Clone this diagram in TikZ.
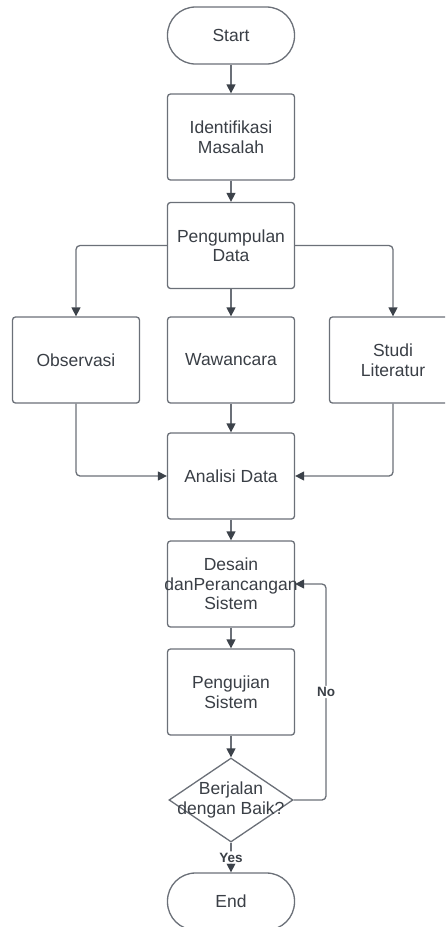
\documentclass[tikz,border=0pt]{standalone}
\usepackage{fontspec}
\setmainfont{Liberation Sans}
\usetikzlibrary{arrows.meta,shapes.geometric}
\definecolor{linec}{HTML}{6B7078}
\definecolor{tipc}{HTML}{3C424A}
\definecolor{txtc}{HTML}{3A3F46}

\begin{document}
\begin{tikzpicture}[x=1pt,y=-1pt,
  base/.style={draw=linec, line width=1.3pt, fill=white, text=txtc,
    font=\fontsize{17.5}{19.5}\selectfont, align=center, inner sep=0pt},
  procbox/.style={base, rectangle, rounded corners=3pt,
    minimum width=127pt, minimum height=86pt},
  termbox/.style={base, rectangle, rounded corners=28pt,
    minimum width=127pt, minimum height=57pt},
  decbox/.style={base, diamond, minimum width=124pt, minimum height=84pt},
  flow/.style={draw=linec, line width=1.3pt, rounded corners=4pt,
    -{Triangle[length=9pt,width=9pt,color=tipc]}},
  tag/.style={fill=white, text=txtc,
    font=\bfseries\fontsize{13.5}{15}\selectfont, inner sep=1.5pt}
]
\useasboundingbox (0,0) rectangle (445,927);
\clip (0,0) rectangle (445,927);

% nodes of the flow
\node[termbox] (start) at (231,35.5) {Start};
\node[procbox] (ident) at (231,137) {Identifikasi\\Masalah};
\node[procbox] (kumpul) at (231,245.5) {Pengumpulan\\Data};
\node[procbox] (obs) at (76,360) {Observasi};
\node[procbox] (waw) at (231,360) {Wawancara};
\node[procbox] (studi) at (393,360) {Studi\\Literatur};
\node[procbox] (analisi) at (231,476) {Analisi Data};
\node[procbox] (desain) at (231,584) {Desain\\\makebox[0pt]{danPerancangan}\\Sistem};
\node[procbox] (uji) at (231,692) {Pengujian\\Sistem};
\node[decbox, label={[text=txtc, align=center, inner sep=0pt,
    font=\fontsize{17.5}{19.5}\selectfont]center:{Berjalan\\dengan Baik?}}]
  (cek) at (231,800) {};
\node[termbox] (end) at (231,901.5) {End};

% connectors
\draw[flow] (start) -- (ident);
\draw[flow] (ident) -- (kumpul);
\draw[flow] (kumpul) -- (waw);
\draw[flow] (kumpul.west) -| (obs.north);
\draw[flow] (kumpul.east) -| (studi.north);
\draw[flow] (obs.south) |- (analisi.west);
\draw[flow] (waw) -- (analisi);
\draw[flow] (studi.south) |- (analisi.east);
\draw[flow] (analisi) -- (desain);
\draw[flow] (desain) -- (uji);
\draw[flow] (uji) -- (cek);
\coordinate (loop) at (326,800);
\draw[flow] (cek.east) -- (loop) |- (desain.east) node[tag, pos=0.25] {No};
\draw[flow] (cek.south) -- (end.north) node[tag, midway] {Yes};
\end{tikzpicture}
\end{document}
